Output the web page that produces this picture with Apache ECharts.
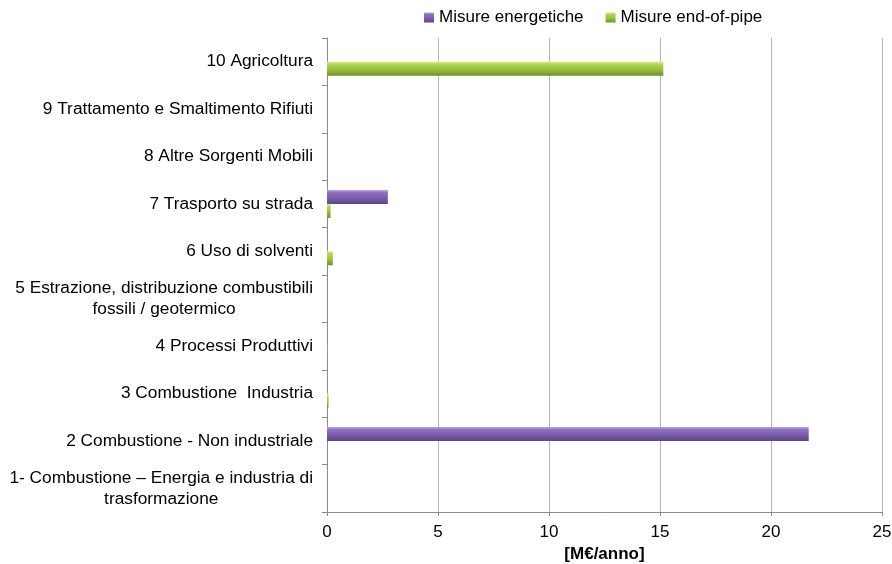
<!DOCTYPE html>
<html>
<head>
<meta charset="utf-8">
<script src="https://cdn.jsdelivr.net/npm/echarts@6/dist/echarts.min.js"></script>
<style>
  html, body { margin: 0; padding: 0; background: #fff; }
  #chart { width: 892px; height: 564px; }
</style>
</head>
<body>
<div id="chart"></div>
<script>
// categorie dal basso verso l'alto
var categories = [
  '1- Combustione – Energia e industria di\ntrasformazione',
  '2 Combustione - Non industriale',
  '3 Combustione  Industria',
  '4 Processi Produttivi',
  '5 Estrazione, distribuzione combustibili\nfossili / geotermico',
  '6 Uso di solventi',
  '7 Trasporto su strada',
  '8 Altre Sorgenti Mobili',
  '9 Trattamento e Smaltimento Rifiuti',
  '10 Agricoltura'
]
var seriesNames = ['Misure energetiche', 'Misure end-of-pipe']
var energetiche = [0, 21.7, 0, 0, 0, 0, 2.74, 0, 0, 0]
var endOfPipe = [0, 0, 0.07, 0.01, 0, 0.26, 0.16, 0, 0, 15.15]
var xTicks = { min: 0, max: 25, interval: 5 }

var chart = echarts.init(document.getElementById('chart'))

var font = 'Liberation Sans, Arial, sans-serif'

// sfumature "cilindriche" stile Excel
var purpleGrad = new echarts.graphic.LinearGradient(0, 0, 0, 1, [
  { offset: 0, color: '#c0a6e8' },
  { offset: 0.2, color: '#8e6fc4' },
  { offset: 0.6, color: '#7a5ca9' },
  { offset: 1, color: '#5c4585' }
])
var greenGrad = new echarts.graphic.LinearGradient(0, 0, 0, 1, [
  { offset: 0, color: '#d8f08e' },
  { offset: 0.2, color: '#b0d454' },
  { offset: 0.6, color: '#98bd3e' },
  { offset: 1, color: '#6f8f2a' }
])

var option = {
  animation: false,
  textStyle: { fontFamily: font },
  legend: {
    data: seriesNames,
    top: 4,
    left: 419,
    icon: 'rect',
    itemWidth: 10,
    itemHeight: 10,
    itemGap: 22,
    textStyle: { fontSize: 17, color: '#000', fontFamily: font }
  },
  grid: { left: 327, right: 10, top: 38, bottom: 52, containLabel: false, outerBoundsMode: 'none' },
  xAxis: {
    type: 'value',
    min: xTicks.min,
    max: xTicks.max,
    interval: xTicks.interval,
    name: '[M€/anno]',
    nameLocation: 'middle',
    nameGap: 32,
    nameTextStyle: { fontSize: 17, fontWeight: 'bold', color: '#000', fontFamily: font },
    axisLine: { show: true, lineStyle: { color: '#8c8c8c' } },
    axisTick: { show: true, length: 4, lineStyle: { color: '#8c8c8c' } },
    axisLabel: { fontSize: 17, color: '#000', margin: 12, fontFamily: font },
    splitLine: { show: true, lineStyle: { color: '#b4b4b4' } }
  },
  yAxis: {
    type: 'category',
    data: categories,
    axisLine: { show: true, lineStyle: { color: '#8c8c8c' } },
    axisTick: { show: true, length: 5, lineStyle: { color: '#8c8c8c' } },
    axisLabel: {
      margin: 14,
      fontFamily: font,
      formatter: function(v) {
        return v.split('\n').map(function(s) { return '{c|' + s + '}' }).join('\n')
      },
      rich: {
        c: { align: 'center', fontSize: 17.3, color: '#000', lineHeight: 21, fontFamily: font }
      }
    }
  },
  series: [
    {
      name: seriesNames[0],
      type: 'bar',
      data: energetiche,
      barWidth: 14,
      barGap: '0%',
      itemStyle: { color: purpleGrad }
    },
    {
      name: seriesNames[1],
      type: 'bar',
      data: endOfPipe,
      barWidth: 14,
      barGap: '0%',
      itemStyle: { color: greenGrad }
    }
  ]
}

chart.setOption(option)
</script>
</body>
</html>
